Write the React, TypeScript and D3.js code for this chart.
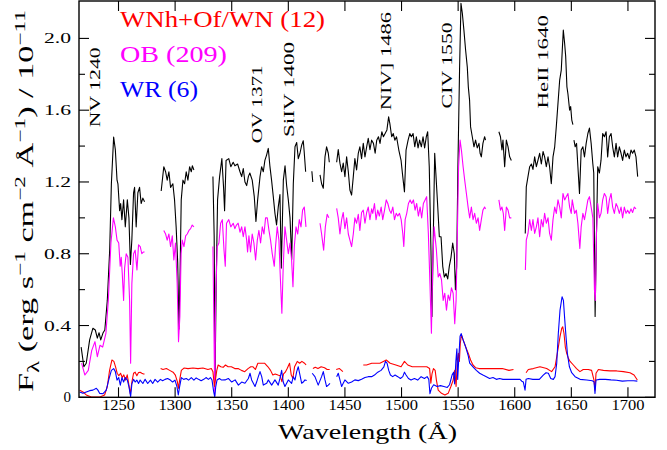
import React from 'react';
import * as d3 from 'd3';

type P = [number, number] | null;

// Composite spectrum (black)
const blackSpectrum: P[] = [
  [1217,0.28],[1219.4,0.17],[1221.5,0.19],[1224.5,0.32],[1227.4,0.385],[1229.5,0.375],[1231.3,0.33],[1232.8,0.36],[1234.3,0.32],[1236.4,0.36],[1237.9,0.375],[1240.1,0.54],[1242.2,0.82],[1243.7,1.19],[1245.7,1.45],[1247.2,1.38],[1248.7,1.21],[1249.5,1.19],[1251,1.04],[1251.9,1.08],[1253,0.99],[1254.5,1.1],[1256,0.95],[1257.8,1.1],[1259.2,1.0],[1260.5,0.74],[1261.8,0.88],[1263.3,1.14],[1264.2,1.17],[1265.6,0.95],[1267.1,1.14],[1268.6,1.17],[1270,1.08],[1271.5,1.11],[1273,1.09],
  null,
  [1287.7,1.15],[1290,1.285],[1291.6,1.257],[1293,1.21],[1294.5,1.257],[1296,1.17],[1298,1.19],[1299.5,1.1],[1300.9,0.95],[1302.3,0.75],[1303.4,0.38],[1304.4,0.7],[1305.4,1.1],[1306.9,1.21],[1308.4,1.19],[1309.8,1.257],[1311.3,1.21],[1312.8,1.285],[1314.3,1.257],[1315.2,1.29],[1316.6,1.267],
  null,
  [1333.4,1.23],[1334.5,0.9],[1335.3,0.1],[1336.2,0.6],[1337.5,1.1],[1339.3,1.23],[1341.3,1.33],[1342.8,1.17],[1343.7,1.04],[1345,1.32],[1347.4,1.33],[1349.2,1.285],[1351.3,1.31],[1352.8,1.29],[1355.2,1.3],[1357.3,1.257],[1358.8,1.23],[1360.2,1.275],[1361.7,1.2],[1363.2,1.18],[1364.7,1.23],[1366,1.25],[1368.1,1.21],[1369.9,1.12],[1371.4,0.98],[1372.9,1.1],[1375,1.23],[1376.4,1.285],[1377.9,1.257],[1379.3,1.32],[1380.8,1.35],[1382.3,1.387],[1383.7,1.29],[1385.2,1.21],[1386.7,1.12],[1388.2,1.025],[1389.6,0.96],[1391.1,1.06],[1392.6,1.13],[1393.8,0.72],[1395.6,1.21],[1397.1,1.29],[1398.5,1.18],[1400,1.1],[1401.5,1.0],[1403,0.77],[1404.4,1.19],[1405.9,1.396],[1407.4,1.42],[1408.8,1.33],[1410.3,1.36],[1411.8,1.405],[1413.2,1.43],[1414,1.37],[1415.3,1.257],
  null,
  [1420.8,1.26],[1421.6,1.2],
  null,
  [1428,1.24],[1429.4,1.19],[1430.9,1.165],[1432.4,1.34],[1433.8,1.396],[1435.3,1.36],[1436.2,1.31],
  null,
  [1442.7,1.31],[1444.1,1.38],[1445.6,1.305],[1447.1,1.257],[1448.5,1.305],[1450,1.23],[1451.5,1.34],[1453,1.257],[1454.4,1.155],[1455.9,1.127],[1457.4,1.23],[1458.8,1.33],[1460.3,1.267],[1461.8,1.36],[1463.2,1.396],[1464.7,1.33],[1466.2,1.415],[1467.7,1.34],[1469.2,1.396],[1470.6,1.443],[1472.1,1.38],[1473.6,1.433],[1475.2,1.415],[1476.7,1.36],[1478.1,1.433],[1479.6,1.452],[1481,1.415],[1482.6,1.48],[1484,1.452],[1485.5,1.47],[1487.1,1.49],[1488.6,1.563],[1489.7,1.525],[1491.3,1.452],[1492.7,1.47],[1494.1,1.433],[1495.6,1.452],[1497.6,1.378],[1499.6,1.32],[1501.1,1.23],[1502.6,1.145],[1504,1.378],[1505.8,1.433],[1507.3,1.47],[1508.7,1.452],[1510.2,1.47],[1511.7,1.396],[1513.1,1.452],[1514.6,1.39],[1516,1.433],[1517.5,1.396],[1519,1.452],[1520.4,1.39],[1521.9,1.452],[1523.1,1.48],[1524.5,1.285],[1526,0.82],[1526.9,0.45],[1528.1,0.91],[1529.3,1.36],[1530.3,1.25],[1532,1.06],[1533.4,0.895],[1534.9,0.895],[1536.4,0.73],[1537.8,0.67],[1539.3,0.69],[1540.8,0.66],[1542.2,0.73],[1543.7,0.78],[1545.2,0.86],[1546.6,0.8],[1547.6,0.6],[1548.7,0.73],[1549.8,1.285],[1551.3,1.84],[1552.5,2.195],[1553.7,2.14],[1555.1,2.046],[1556.6,1.935],[1558.1,1.84],[1559,1.73],[1560.1,1.656],[1561,1.507],[1562.5,1.452],[1564,1.396],[1565.4,1.433],[1566.9,1.39],[1568.4,1.415],[1569.4,1.36],[1570.5,1.34],[1571.9,1.415],[1573.4,1.452],[1574.2,1.433],
  null,
  [1586,1.48],[1587.4,1.452],[1588.7,1.378],[1589.6,1.433],[1591.1,1.285],[1592.6,1.433],[1594.1,1.396],[1595.5,1.34],[1597,1.32],
  null,
  [1609.3,0.913],[1610.2,1.173],[1611.7,1.23],[1613.2,1.285],[1614.7,1.3],[1616.1,1.27],[1617.6,1.34],[1619.1,1.285],[1620.5,1.32],[1622,1.36],[1623.5,1.3],[1625,1.37],[1626.4,1.34],[1627.9,1.285],[1629.4,1.34],[1630.8,1.285],[1632.3,1.19],[1633.8,1.34],[1635.3,1.396],[1636.7,1.507],[1638.2,1.638],[1639.7,1.768],[1641.1,1.823],[1642,1.935],[1642.9,2.046],[1644.1,1.97],[1645,1.9],[1646.1,1.73],[1647,1.69],[1648.5,1.6],[1649.4,1.62],[1650.4,1.545],[1651.4,1.52],
  null,
  [1652.3,1.433],[1653.4,1.396],[1654.6,1.415],[1655.8,1.285],[1657.2,1.136],[1658.7,1.378],[1660.2,1.396],[1661.6,1.34],[1663.1,1.415],[1664.6,1.47],[1666,1.5],[1667.5,1.415],[1669,1.3],[1669.8,1.25],[1671,0.45],[1672.2,0.913],[1673.3,1.285],[1674.8,1.25],[1676.2,1.32],[1677.7,1.47],[1679.2,1.452],[1680.7,1.48],[1682.1,1.34],[1683.6,1.452],[1685.1,1.47],[1686.5,1.396],[1688,1.34],[1689.5,1.415],[1690.9,1.34],[1692.4,1.396],[1693.9,1.36],[1695.3,1.32],[1696.8,1.378],[1698.3,1.34],[1699.7,1.36],[1701.2,1.33],[1702.7,1.378],[1704.1,1.36],[1705.6,1.378],[1707.1,1.34],[1708.6,1.23],
];

// OB (209) — magenta
const obSpectrum: P[] = [
  [1217.4,0.19],[1220.3,0.124],[1223.3,0.15],[1226.3,0.26],[1229.2,0.31],[1231.3,0.226],[1233.6,0.29],[1236,0.28],[1238.9,0.358],[1241,0.54],[1243.3,0.86],[1245.5,1.0],[1247.2,0.95],[1248.7,0.876],[1250.2,0.86],[1251.5,0.73],[1252.4,0.78],[1253.3,0.69],[1254.5,0.54],[1255.4,0.72],[1256.8,0.8],[1258.3,0.78],[1259.8,0.54],[1260.7,0.19],[1261.8,0.635],[1263.3,0.8],[1264.7,0.82],[1266.3,0.71],[1267.7,0.85],[1269.2,0.84],[1270.6,0.8],[1272.1,0.81],[1273,0.81],
  null,
  [1290,0.93],[1291.6,0.91],[1293,0.876],[1294.5,0.91],[1296,0.84],[1297.5,0.9],[1298.9,0.765],[1300.3,0.86],[1301.8,0.635],[1303,0.31],[1304.2,0.45],[1305.3,0.8],[1306.3,0.876],[1307.8,0.84],[1309.3,0.9],[1310.7,0.91],[1312.2,0.93],[1313.7,0.94],[1315.1,0.96],[1316.6,0.95],
  null,
  [1333.4,0.84],[1335,0.01],[1335.8,0.54],[1337.2,0.84],[1338.7,0.86],[1340.2,0.97],[1341.7,0.99],[1343.2,0.82],[1344.3,0.73],[1345.4,0.97],[1347.4,0.99],[1349.2,0.95],[1351.3,0.97],[1352.8,0.94],[1354.2,0.96],[1355.7,0.97],[1357.3,0.92],[1358.8,0.95],[1360.2,0.895],[1361.7,0.95],[1363.2,0.876],[1364,0.81],[1365.2,0.9],[1366.6,0.81],[1368.1,0.91],[1369.6,0.86],[1371.1,0.765],[1372.6,0.876],[1374,0.93],[1375.5,0.86],[1377,0.95],[1378.5,0.91],[1379.9,1.0],[1381.4,1.0],[1382.9,0.93],[1384.3,0.876],[1385.8,0.8],[1387.6,0.73],[1388.7,0.84],[1390.2,0.95],[1391.7,0.876],[1392.8,0.69],[1394.3,0.468],[1395.5,0.73],[1397,0.95],[1398.5,0.876],[1400,0.8],[1401.5,0.86],[1402.9,0.765],[1404.1,0.616],[1405.3,0.84],[1406.8,0.95],[1408.3,0.91],[1409.7,0.99],[1411.2,0.95],[1412.6,1.043],[1414.1,1.06],[1415.6,0.95],
  null,
  [1428,0.97],[1429.4,0.91],[1431.2,0.82],[1432.7,0.95],[1434.3,1.02],[1435.8,1.0],
  null,
  [1442.7,1.053],[1444.1,1.0],[1445.6,0.91],[1447.1,0.99],[1448.5,1.03],[1450,0.94],[1451.5,1.0],[1453,0.91],[1454.4,0.876],[1455.9,0.84],[1457.4,0.91],[1458.8,1.0],[1460.3,0.97],[1461.8,1.02],[1463.2,0.93],[1464.7,1.03],[1466.2,1.043],[1467.7,0.97],[1469.2,1.03],[1470.6,1.06],[1472.1,0.99],[1473.6,1.05],[1474.6,1.025],[1476.1,1.08],[1477.5,0.99],[1479,1.043],[1480.4,1.01],[1482,1.06],[1483.4,0.99],[1485,1.043],[1486.5,1.1],[1487.9,1.08],[1489.4,1.043],[1490.8,1.025],[1492.3,1.06],[1493.8,0.99],[1495.3,1.025],[1496.7,1.01],[1498.2,1.025],[1499.7,0.99],[1501.1,0.913],[1502,0.84],[1503.2,0.99],[1504.6,1.025],[1506.1,1.08],[1507.6,1.1],[1509,1.08],[1510.5,1.1],[1512,1.043],[1513.4,1.08],[1514.9,1.01],[1516.4,1.06],[1517.8,1.0],[1519.3,1.08],[1520.8,1.1],[1522.2,1.118],[1523.7,0.913],[1525.1,0.635],[1526.4,0.357],[1527.5,0.73],[1528.8,0.95],[1530.8,0.82],[1532.4,0.67],[1533.8,0.69],[1535.3,0.655],[1536.8,0.54],[1538.2,0.58],[1539.7,0.486],[1541.2,0.57],[1542.6,0.54],[1544.1,0.61],[1545.6,0.58],[1547,0.41],[1548.2,0.54],[1549,0.8],[1550.4,1.285],[1551.7,1.433],[1552.9,1.378],[1554.4,1.285],[1555.8,1.21],[1557.3,1.136],[1558.8,1.06],[1560.2,1.0],[1561.7,1.06],[1563.2,0.99],[1564.6,1.025],[1566.1,0.97],[1567.6,1.0],[1569,0.93],[1570.5,0.99],[1571.9,1.043],[1573.4,1.06],[1574.2,1.05],
  null,
  [1586,1.1],[1587.4,1.043],[1588.7,1.06],[1589.9,1.025],[1591.1,0.93],[1592.6,1.06],[1594.1,1.043],[1595.5,1.0],[1597,1.0],
  null,
  [1609.4,0.71],[1610.2,0.876],[1611.7,0.913],[1613.2,0.99],[1614.7,0.93],[1616.1,0.99],[1617.6,0.913],[1619.1,0.95],[1620.5,1.0],[1622,0.895],[1623.5,0.99],[1625,0.95],[1626.4,1.025],[1627.9,0.97],[1629.4,1.0],[1630.8,0.913],[1632.3,0.876],[1633.8,0.99],[1635.3,1.06],[1636.7,1.025],[1638.2,1.1],[1639.7,1.06],[1641.1,1.0],[1642.6,1.136],[1644.1,1.1],[1645.5,1.118],[1647,1.136],[1648.5,1.06],[1649.9,1.025],[1650.8,1.1],[1652.9,1.025],[1654.4,1.043],[1655.8,0.97],[1657.5,0.83],[1658.7,0.95],[1660.2,1.025],[1661.6,0.99],[1663.1,1.043],[1664.6,1.1],[1666,1.118],[1667.5,1.06],[1669,1.0],[1670.4,0.6],[1671.2,0.54],[1672.2,0.913],[1673.3,1.08],[1674.8,1.0],[1676.2,1.025],[1677.7,1.1],[1679.2,1.136],[1680.7,1.118],[1682.1,1.025],[1683.6,1.1],[1685.1,1.136],[1686.5,1.06],[1688,1.025],[1689.5,1.08],[1690.9,1.06],[1692.4,1.025],[1693.9,1.06],[1695.3,1.0],[1696.8,1.06],[1698.3,1.025],[1699.7,1.043],[1701.2,1.025],[1702.7,1.05],[1704.1,1.03],[1705.6,1.06],[1707.1,1.05],
];

// WNh+Of/WN (12) — red
const wnSpectrum: P[] = [
  [1215.7,0.04],[1218.6,0.03],[1221.5,0.013],[1226,0.002],[1233.6,0.002],[1237.7,0.013],[1240.1,0.06],[1242.1,0.15],[1244.2,0.208],[1245.9,0.2],[1247.4,0.17],[1248.8,0.134],[1250.3,0.12],[1251.8,0.134],[1253.3,0.11],[1254.7,0.125],[1256.2,0.096],[1257.7,0.125],[1259.2,0.068],[1260.4,0.02],[1261.8,0.085],[1263.3,0.134],[1264.7,0.14],[1266.2,0.12],[1267.7,0.138],[1269.1,0.14],[1270.6,0.134],[1272.1,0.13],[1273,0.13],
  null,
  [1287.2,0.16],[1289.3,0.155],[1292.3,0.16],[1295.2,0.15],[1298.2,0.14],[1300.2,0.124],[1302,0.087],[1302.9,0.05],[1304,0.096],[1305.5,0.15],[1307.8,0.163],[1311.4,0.16],[1315.8,0.163],[1320.2,0.16],[1324.6,0.163],[1329,0.155],[1332,0.16],[1333.4,0.143],[1334.7,0.06],[1335.6,0.096],[1336.8,0.15],[1338,0.18],[1340.4,0.17],[1342.4,0.167],[1344.5,0.18],[1346.8,0.17],[1349.7,0.17],[1352.7,0.16],[1355.6,0.16],[1358.6,0.15],[1361.5,0.143],[1364.4,0.16],[1366.8,0.17],[1368.8,0.17],[1370.9,0.155],[1373.1,0.19],[1376,0.19],[1379,0.19],[1382,0.17],[1384.3,0.15],[1386.3,0.124],[1388.4,0.13],[1390.8,0.124],[1392.8,0.12],[1394.3,0.087],[1395.8,0.13],[1397.3,0.14],[1399,0.16],[1401.1,0.19],[1402.6,0.124],[1404,0.106],[1405.5,0.17],[1407.9,0.2],[1410,0.19],[1412,0.2],[1414.3,0.19],[1415.7,0.18],
  null,
  [1421.7,0.16],[1423.8,0.167],[1426.2,0.16],[1429,0.17],[1432,0.165],[1434.3,0.155],[1436.5,0.155],
  null,
  [1442.3,0.155],[1445.2,0.16],[1448.2,0.143],
  null,
  [1466.2,0.18],[1469.1,0.18],[1473.7,0.19],[1480.9,0.19],[1486.5,0.208],[1490,0.19],[1495,0.18],[1499.6,0.17],[1502.6,0.2],[1505.5,0.18],[1509.5,0.17],[1514.5,0.17],[1519.5,0.17],[1522.3,0.17],[1524.8,0.16],[1525.9,0.078],[1526.9,0.13],[1528.2,0.16],[1529.7,0.15],[1530.8,0.096],[1532.4,0.04],[1535.3,0.022],[1538.3,0.013],[1541.2,0.022],[1543.6,0.06],[1545.6,0.096],[1547,0.15],[1548.2,0.06],[1549.3,0.208],[1550.2,0.245],[1551.1,0.2],[1551.9,0.3],[1552.9,0.347],[1554.4,0.32],[1556.7,0.28],[1559,0.245],[1561,0.208],[1563.1,0.18],[1565.4,0.165],[1568.4,0.16],[1571.3,0.16],[1577.2,0.16],[1583.1,0.16],[1589,0.16],[1594.9,0.15],[1598.9,0.155],
  null,
  [1610,0.137],[1612,0.155],[1616.4,0.16],[1622.3,0.17],[1628.2,0.16],[1632.6,0.143],[1635.6,0.17],[1637.1,0.226],[1638.5,0.28],[1640,0.338],[1641.5,0.384],[1642.4,0.393],[1643.5,0.357],[1644.7,0.28],[1645.9,0.245],[1647.4,0.217],[1648.9,0.2],[1651.8,0.18],[1654.6,0.16],[1657.6,0.143],[1660.5,0.155],[1665,0.155],[1667.9,0.15],[1670,0.096],[1670.9,0.04],[1671.8,0.134],[1673.9,0.155],[1678.3,0.15],[1684.2,0.147],[1690.1,0.147],[1696,0.143],[1701.8,0.137],[1705.4,0.124],[1708.3,0.096],
];

// WR (6) — blue
const wrSpectrum: P[] = [
  [1215.7,0.03],[1218.6,0.022],[1221.5,0.03],[1224.5,0.037],[1227.4,0.04],[1230.4,0.05],[1231.8,0.04],[1233.3,0.022],[1236.3,0.02],[1239.2,0.04],[1241.3,0.096],[1243.7,0.15],[1245.7,0.16],[1247.2,0.143],[1248.7,0.096],[1250.2,0.11],[1251.6,0.068],[1253,0.11],[1254.5,0.085],[1256,0.11],[1257.8,0.096],[1259.2,0.06],[1260.7,0.003],[1261.8,0.075],[1263.3,0.1],[1264.7,0.085],[1266.2,0.096],[1267.7,0.077],[1269.1,0.096],[1271.5,0.077],[1273.5,0.1],[1275.8,0.077],[1278.2,0.096],[1280.2,0.077],[1282.3,0.1],[1284.6,0.085],[1287,0.1],[1289,0.092],[1291.1,0.1],[1293.4,0.105],[1295.8,0.096],[1297.8,0.085],[1299.9,0.096],[1301.6,0.06],[1302.8,0.013],[1304,0.06],[1305.5,0.11],[1307.5,0.1],[1309.9,0.105],[1311.9,0.096],[1314.3,0.11],[1316.6,0.096],[1318.6,0.108],[1320.7,0.1],[1323,0.092],[1325.3,0.1],[1327.3,0.11],[1329.4,0.1],[1331.2,0.11],[1332.6,0.096],[1334.1,0.03],[1335,0.002],[1335.9,0.06],[1337,0.096],[1339.1,0.105],[1341.1,0.096],[1344.1,0.097],[1347,0.105],[1350,0.085],[1353,0.097],[1355.9,0.068],[1358.8,0.085],[1361.7,0.078],[1364.7,0.105],[1366.2,0.134],[1367.6,0.097],[1370.6,0.06],[1372,0.085],[1373.5,0.115],[1375,0.143],[1376.5,0.115],[1377.9,0.068],[1380.9,0.078],[1382.3,0.097],[1385.3,0.068],[1388.2,0.097],[1391.1,0.068],[1392.6,0.105],[1394.1,0.15],[1395.5,0.085],[1397,0.06],[1400,0.097],[1402.9,0.078],[1404.4,0.115],[1405.9,0.097],[1407.4,0.143],[1408.8,0.17],[1410.3,0.124],[1411.8,0.078],[1413.2,0.085],[1414.7,0.097],[1416.2,0.093],
  null,
  [1421.1,0.134],[1423.5,0.115],[1426.4,0.068],[1429.4,0.115],[1430.9,0.143],[1432.4,0.097],[1433.8,0.06],[1435.3,0.068],[1436.8,0.078],
  null,
  [1442.7,0.115],[1444.1,0.134],[1445.6,0.097],[1447.1,0.06],[1448.5,0.078],[1450,0.097],[1453,0.078],[1455.9,0.085],[1458.8,0.097],[1461.8,0.093],[1464.7,0.1],[1467.7,0.11],[1470.6,0.115],[1473.6,0.115],[1476.1,0.124],[1479,0.14],[1481.9,0.15],[1484.4,0.17],[1485.8,0.2],[1487.2,0.19],[1488.7,0.15],[1490.2,0.124],[1492.2,0.115],[1494.3,0.124],[1496.7,0.115],[1499,0.105],[1501.1,0.115],[1502.6,0.14],[1504,0.124],[1506.1,0.105],[1508.4,0.096],[1511.4,0.105],[1514.3,0.096],[1517.3,0.115],[1520.2,0.105],[1522.6,0.115],[1524.1,0.1],[1525.1,0.02],[1526.4,0.05],[1528.4,0.07],[1531.4,0.06],[1534.4,0.065],[1537.4,0.06],[1540.4,0.055],[1542.4,0.07],[1544.7,0.125],[1546,0.14],[1546.9,0.075],[1548,0.2],[1548.9,0.27],[1549.6,0.1],[1550.6,0.22],[1551.7,0.34],[1552.7,0.355],[1554.4,0.32],[1556.7,0.28],[1559,0.23],[1560.2,0.19],[1563.1,0.17],[1566.1,0.15],[1569,0.134],[1571.9,0.124],[1574.9,0.115],[1577.8,0.105],[1580.8,0.11],[1583.7,0.1],[1586.7,0.105],[1589.6,0.1],[1592.6,0.1],[1595.5,0.1],[1598.4,0.1],[1601.8,0.1],[1604.7,0.1],[1606.2,0.09],[1607.6,0.085],[1609.1,0.04],[1610,0.1],[1612,0.105],[1616,0.1],[1621.7,0.1],[1625.2,0.124],[1627.6,0.137],[1629.7,0.134],[1631.8,0.105],[1634.1,0.1],[1635.6,0.115],[1637.1,0.19],[1638.5,0.357],[1640,0.486],[1641.8,0.56],[1643,0.54],[1644.2,0.43],[1645.3,0.338],[1646.5,0.245],[1648.3,0.17],[1650.3,0.137],[1653.3,0.115],[1657.7,0.1],[1663.6,0.096],[1668.5,0.092],[1670,0.087],[1670.9,0.022],[1671.8,0.096],[1675,0.1],[1680,0.1],[1685,0.097],[1690,0.095],[1695,0.09],[1700,0.092],[1705,0.092],[1708.3,0.09],
];

const xTickValues = [1250, 1300, 1350, 1400, 1450, 1500, 1550, 1600, 1650, 1700];
const yMajorTicks = [0, 0.4, 0.8, 1.2, 1.6, 2.0];
const yMajorLabels = ['0', '0.4', '0.8', '1.2', '1.6', '2.0'];
const yMinorTicks = [0.2, 0.6, 1.0, 1.4, 1.8];
const legendLabels = ['WNh+Of/WN (12)', 'OB (209)', 'WR (6)'];
const legendColors = ['#ff0000', '#ff00ff', '#0000ff'];
const lineLabels = ['NV 1240', 'OV 1371', 'SiIV 1400', 'NIV] 1486', 'CIV 1550', 'HeII 1640'];

// layout for annotation (wavelength of text baseline, flux at bottom / top of text)
const lineLabelLayout = [
  { wl: 1233.7, lo: 1.505, hi: 1.95 },
  { wl: 1376.8, lo: 1.416, hi: 1.85 },
  { wl: 1405.0, lo: 1.45, hi: 1.98 },
  { wl: 1490.5, lo: 1.6, hi: 2.147 },
  { wl: 1544.3, lo: 1.61, hi: 2.09 },
  { wl: 1629.4, lo: 1.61, hi: 2.13 },
];
const legendLayout = [
  { y: 27, len: 205 },
  { y: 62, len: 107 },
  { y: 97, len: 78 },
];

const FONT = '"Liberation Serif", serif';

export default function App() {
  const left = 79, right = 655, top = 1, bottom = 397.3;
  const x = d3.scaleLinear().domain([1215.1, 1723.9]).range([left, right]);
  const y = d3.scaleLinear().domain([0, 2.2085]).range([bottom, top]);

  const line = d3
    .line<P>()
    .defined((d) => d !== null)
    .x((d) => x((d as [number, number])[0]))
    .y((d) => y((d as [number, number])[1]));

  const series: { data: P[]; color: string }[] = [
    { data: blackSpectrum, color: '#000000' },
    { data: obSpectrum, color: '#ff00ff' },
    { data: wnSpectrum, color: '#ff0000' },
    { data: wrSpectrum, color: '#0000ff' },
  ];

  return (
    <svg
      width={667}
      height={450}
      style={{ position: 'absolute', left: 0, top: 0, background: '#fff' }}
      fontFamily={FONT}
    >
      <rect x={0} y={0} width={667} height={450} fill="#fff" />
      <defs>
        <clipPath id="plotclip">
          <rect x={left} y={top} width={right - left} height={bottom - top} />
        </clipPath>
      </defs>
      <g clipPath="url(#plotclip)">
        {series.map((s, i) => (
          <path
            key={i}
            d={line(s.data) || ''}
            fill="none"
            stroke={s.color}
            strokeWidth={1.1}
            strokeLinejoin="round"
          />
        ))}
      </g>

      {/* frame */}
      <rect x={left} y={top} width={right - left} height={bottom - top} fill="none" stroke="#000" strokeWidth={1.4} />

      {/* x ticks */}
      {xTickValues.map((v) => (
        <g key={v}>
          <line x1={x(v)} x2={x(v)} y1={bottom} y2={bottom - 10} stroke="#000" strokeWidth={1.1} />
          <line x1={x(v)} x2={x(v)} y1={top} y2={top + 10} stroke="#000" strokeWidth={1.1} />
          <text x={x(v)} y={410} textAnchor="middle" fontSize={15} textLength={33} lengthAdjust="spacingAndGlyphs">
            {v}
          </text>
        </g>
      ))}

      {/* y ticks */}
      {yMajorTicks.map((v, i) => (
        <g key={'ym' + v}>
          <line x1={left} x2={left + 10} y1={y(v)} y2={y(v)} stroke="#000" strokeWidth={1.1} />
          <line x1={right} x2={right - 10} y1={y(v)} y2={y(v)} stroke="#000" strokeWidth={1.1} />
          <text
            x={71}
            y={y(v) + 5}
            textAnchor="end"
            fontSize={15}
            textLength={yMajorLabels[i].length === 1 ? undefined : 27}
            lengthAdjust="spacingAndGlyphs"
          >
            {yMajorLabels[i]}
          </text>
        </g>
      ))}
      {yMinorTicks.map((v) => (
        <g key={'yn' + v}>
          <line x1={left} x2={left + 6} y1={y(v)} y2={y(v)} stroke="#000" strokeWidth={1.1} />
          <line x1={right} x2={right - 6} y1={y(v)} y2={y(v)} stroke="#000" strokeWidth={1.1} />
        </g>
      ))}

      {/* x label */}
      <text x={278} y={439} fontSize={21} textLength={179} lengthAdjust="spacingAndGlyphs">
        Wavelength (Å)
      </text>

      {/* y label */}
      <text
        transform="translate(33,392) rotate(-90)"
        fontSize={22}
        textLength={382}
        lengthAdjust="spacingAndGlyphs"
      >
        F<tspan fontSize={16} dy={6}>λ</tspan>
        <tspan dy={-6}> (erg s</tspan>
        <tspan fontSize={15} dy={-8}>−1</tspan>
        <tspan dy={8}> cm</tspan>
        <tspan fontSize={15} dy={-8}>−2</tspan>
        <tspan dy={8}> Å</tspan>
        <tspan fontSize={15} dy={-8}>−1</tspan>
        <tspan dy={8}>)  /  10</tspan>
        <tspan fontSize={15} dy={-8}>−11</tspan>
      </text>

      {/* legend */}
      {legendLabels.map((t, i) => (
        <text
          key={t}
          x={120}
          y={legendLayout[i].y}
          fill={legendColors[i]}
          fontSize={23}
          textLength={legendLayout[i].len}
          lengthAdjust="spacingAndGlyphs"
        >
          {t}
        </text>
      ))}

      {/* line labels */}
      {lineLabels.map((t, i) => {
        const L = lineLabelLayout[i];
        const bx = x(L.wl);
        const by = y(L.lo);
        const len = y(L.lo) - y(L.hi);
        return (
          <text
            key={t}
            transform={`translate(${bx},${by}) rotate(-90)`}
            fontSize={15}
            textLength={len}
            lengthAdjust="spacingAndGlyphs"
          >
            {t}
          </text>
        );
      })}
    </svg>
  );
}
